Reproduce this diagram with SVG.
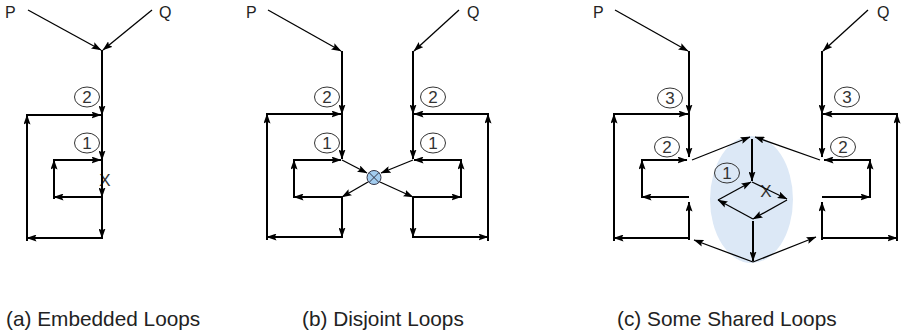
<svg xmlns="http://www.w3.org/2000/svg" width="901" height="330" viewBox="0 0 901 330">
<style>
.t{stroke:#000;stroke-width:2;fill:none;marker-end:url(#ah)}
.n{stroke:#000;stroke-width:1.3;fill:none;marker-end:url(#ah)}
.lbl{font-family:"Liberation Sans",Arial,sans-serif;font-size:16px;fill:#222}
.num{font-family:"Liberation Sans",Arial,sans-serif;font-size:17px;fill:#333;text-anchor:middle}
.cir{fill:none;stroke:#333;stroke-width:1}
.cap{font-family:"Liberation Sans",Arial,sans-serif;font-size:20.8px;fill:#222}
</style>
<defs>
<marker id="ah" markerUnits="userSpaceOnUse" markerWidth="10" markerHeight="7" viewBox="0 0 10 7" refX="9.5" refY="3.5" orient="auto">
<path d="M0,0 L10,3.5 L0,7 L1.8,3.5 z" fill="#000"/>
</marker>
</defs>

<g id="panel-a-labels">
<text class="lbl" x="5" y="18">P</text>
<text class="lbl" x="159" y="18">Q</text>
<ellipse class="cir" cx="87" cy="97" rx="12.5" ry="10"/><text class="num" x="87" y="103">2</text>
<ellipse class="cir" cx="87" cy="143" rx="12.5" ry="10"/><text class="num" x="87" y="149">1</text>
<text class="num" x="105" y="186">X</text>
</g>
<g id="panel-a-connectors">
<path class="n" d="M28,10 L101,50"/>
<path class="n" d="M152,10 L103,50"/>
<path class="t" d="M102,50 L102,115"/>
<path class="t" d="M102,115 L102,160"/>
<path class="t" d="M102,160 L102,197"/>
<path class="t" d="M102,197 L102,238"/>
<path class="t" d="M103,238 L27,238"/>
<path class="t" d="M27,241 L27,115"/>
<path class="t" d="M26,115 L101,115"/>
<path class="t" d="M102,197 L54,197"/>
<path class="t" d="M54,199 L54,160"/>
<path class="t" d="M53,160 L101,160"/>
</g>

<g id="panel-b-labels">
<text class="lbl" x="246" y="18">P</text>
<text class="lbl" x="467" y="18">Q</text>
<ellipse class="cir" cx="327" cy="97" rx="12.5" ry="10"/><text class="num" x="327" y="103">2</text>
<ellipse class="cir" cx="327" cy="143" rx="12.5" ry="10"/><text class="num" x="327" y="149">1</text>
<ellipse class="cir" cx="433" cy="97" rx="12.5" ry="10"/><text class="num" x="433" y="103">2</text>
<ellipse class="cir" cx="433" cy="143" rx="12.5" ry="10"/><text class="num" x="433" y="149">1</text>
</g>
<g id="panel-b-junction">
<circle cx="374" cy="177.5" r="7" fill="#a3cdf0" stroke="#334" stroke-width="1"/>
<path d="M369,172.5 L379,182.5 M379,172.5 L369,182.5" stroke="#334" stroke-width="1"/>
</g>
<g id="panel-b-connectors">
<path class="n" d="M268,10 L341,51"/>
<path class="n" d="M459,10 L414,51"/>
<path class="t" d="M342,51 L342,114"/>
<path class="t" d="M342,114 L342,159"/>
<path class="t" d="M266,114 L341,114"/>
<path class="t" d="M267,240 L267,114"/>
<path class="t" d="M343,237 L267,237"/>
<path class="t" d="M342,197 L342,237"/>
<path class="t" d="M293,160 L341,160"/>
<path class="t" d="M294,198 L294,160"/>
<path class="t" d="M342,197 L294,197"/>
<path class="n" d="M342,160 L367,173"/>
<path class="n" d="M368,182 L342,197"/>
<path class="t" d="M413,51 L413,114"/>
<path class="t" d="M413,114 L413,159"/>
<path class="t" d="M489,114 L414,114"/>
<path class="t" d="M488,241 L488,114"/>
<path class="t" d="M412,237 L488,237"/>
<path class="t" d="M413,197 L413,237"/>
<path class="t" d="M462,160 L414,160"/>
<path class="t" d="M461,198 L461,160"/>
<path class="t" d="M413,197 L461,197"/>
<path class="n" d="M413,160 L381,173"/>
<path class="n" d="M380,182 L413,197"/>
</g>

<g id="panel-c-shared">
<ellipse cx="751.5" cy="199.5" rx="41.5" ry="63.5" fill="#dce8f6"/>
<ellipse class="cir" cx="727" cy="173" rx="12.5" ry="10"/><text class="num" x="727" y="179">1</text>
<text class="num" x="766" y="197">X</text>
</g>
<g id="panel-c-labels">
<text class="lbl" x="593" y="18">P</text>
<text class="lbl" x="877" y="18">Q</text>
<ellipse class="cir" cx="670" cy="98" rx="12.5" ry="10"/><text class="num" x="670" y="104">3</text>
<ellipse class="cir" cx="667" cy="147" rx="12.5" ry="10"/><text class="num" x="667" y="153">2</text>
<ellipse class="cir" cx="847" cy="97" rx="12.5" ry="10"/><text class="num" x="847" y="103">3</text>
<ellipse class="cir" cx="843" cy="147" rx="12.5" ry="10"/><text class="num" x="843" y="153">2</text>
</g>
<g id="panel-c-connectors">
<path class="n" d="M615,10 L688,51"/>
<path class="n" d="M868,10 L823,51"/>
<path class="t" d="M689,51 L689,114"/>
<path class="t" d="M689,114 L689,157"/>
<path class="t" d="M613,114 L688,114"/>
<path class="t" d="M614,241 L614,114"/>
<path class="t" d="M690,238 L614,238"/>
<path class="t" d="M689,240 L689,202"/>
<path class="t" d="M641,160 L687,160"/>
<path class="t" d="M642,198 L642,160"/>
<path class="t" d="M689,197 L642,197"/>
<path class="n" d="M692,160 L750,137"/>
<path class="n" d="M753,262 L694,240"/>
<path class="t" d="M822,51 L822,114"/>
<path class="t" d="M822,114 L822,157"/>
<path class="t" d="M898,114 L823,114"/>
<path class="t" d="M897,241 L897,114"/>
<path class="t" d="M821,238 L897,238"/>
<path class="t" d="M822,240 L822,202"/>
<path class="t" d="M871,160 L824,160"/>
<path class="t" d="M870,198 L870,160"/>
<path class="t" d="M822,197 L870,197"/>
<path class="n" d="M820,160 L755,137"/>
<path class="n" d="M753,262 L816,237"/>
<path class="t" d="M752,139 L752,181"/>
<path class="n" d="M718,200 L751,182"/>
<path class="n" d="M752,182 L787,199"/>
<path class="n" d="M787,200 L753,219"/>
<path class="n" d="M753,219 L718,200"/>
<path class="t" d="M753,221 L753,261"/>
</g>

<g id="captions">
<text class="cap" x="6" y="326">(a) Embedded Loops</text>
<text class="cap" x="302" y="326">(b) Disjoint Loops</text>
<text class="cap" x="617" y="326">(c) Some Shared Loops</text>
</g>
</svg>
